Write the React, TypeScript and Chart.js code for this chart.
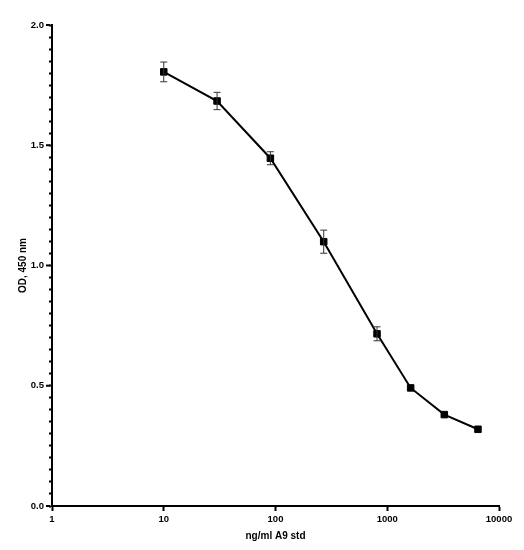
import React, { useEffect, useRef } from "react";
import { Chart, registerables } from "chart.js";

Chart.register(...registerables);

const concentrations = [10, 30, 90, 270, 810, 1620, 3240, 6480];
const odValues = [1.805, 1.684, 1.446, 1.099, 0.716, 0.491, 0.38, 0.319];
const odErrors = [0.041, 0.036, 0.027, 0.048, 0.029, 0.012, 0.008, 0.006];
const xTickValues = [1, 10, 100, 1000, 10000];
const yMajorStep = 0.5;
const yMinorStep = 0.05;

const FONT = "'Liberation Sans', Arial, Helvetica, sans-serif";

const isMajorY = (v: number) => Math.abs(v / yMajorStep - Math.round(v / yMajorStep)) < 1e-6;

const errorBarPlugin = {
  id: "errorBars",
  afterDatasetsDraw(chart: any) {
    const { ctx, scales } = chart;
    const xs = scales.x;
    const ys = scales.y;
    ctx.save();
    ctx.strokeStyle = "#333333";
    ctx.lineWidth = 1;
    concentrations.forEach((c, i) => {
      const px = xs.getPixelForValue(c);
      const top = ys.getPixelForValue(odValues[i] + odErrors[i]);
      const bot = ys.getPixelForValue(odValues[i] - odErrors[i]);
      if (bot - top < 8) return;
      ctx.beginPath();
      ctx.moveTo(px, top);
      ctx.lineTo(px, bot);
      ctx.moveTo(px - 3.5, top);
      ctx.lineTo(px + 3.5, top);
      ctx.moveTo(px - 3.5, bot);
      ctx.lineTo(px + 3.5, bot);
      ctx.stroke();
    });
    ctx.restore();
  },
};

// extends the major y ticks beyond the minor tick length
const majorTickPlugin = {
  id: "majorTicks",
  afterDraw(chart: any) {
    const { ctx, scales } = chart;
    const ys = scales.y;
    const axisX = chart.chartArea.left;
    ctx.save();
    ctx.fillStyle = "#000";
    ys.ticks.forEach((t: any) => {
      if (!isMajorY(t.value)) return;
      const py = ys.getPixelForValue(t.value);
      ctx.fillRect(axisX - 6, py - 1, 4, 2);
    });
    ctx.restore();
  },
};

export default function App() {
  const ref = useRef<HTMLCanvasElement | null>(null);
  useEffect(() => {
    if (!ref.current) return;
    const chart = new Chart(ref.current, {
      type: "line",
      data: {
        datasets: [
          {
            data: concentrations.map((c, i) => ({ x: c, y: odValues[i] })),
            borderColor: "#000",
            backgroundColor: "#000",
            borderWidth: 2,
            pointStyle: "rect",
            pointRadius: 4.6,
            pointBorderWidth: 1,
            pointBackgroundColor: "#000",
            pointBorderColor: "#000",
            tension: 0,
            clip: false as any,
          },
        ],
      },
      options: {
        animation: false,
        responsive: false,
        devicePixelRatio: 1,
        layout: { padding: { top: 25, right: 25, left: 0, bottom: 0 } },
        plugins: { legend: { display: false }, tooltip: { enabled: false } },
        scales: {
          x: {
            type: "logarithmic",
            min: 1,
            max: 10000,
            afterBuildTicks: (scale: any) => {
              scale.ticks = xTickValues.map((v) => ({ value: v, major: true }));
            },
            afterFit: (scale: any) => {
              scale.height = 44;
            },
            border: { display: true, color: "#000", width: 2 },
            grid: {
              display: true,
              drawOnChartArea: false,
              drawTicks: true,
              tickLength: 5,
              tickColor: "#000",
              tickWidth: 2,
            },
            ticks: {
              autoSkip: false,
              maxRotation: 0,
              padding: 3,
              color: "#000",
              font: { family: FONT, size: 9.5, weight: "bold" },
              callback: (v: any) => String(v),
            },
            title: {
              display: true,
              text: "ng/ml A9 std",
              color: "#000",
              font: { family: FONT, size: 10, weight: "bold" },
              padding: { top: 0, bottom: 8 },
            },
          },
          y: {
            min: 0,
            max: 2,
            afterBuildTicks: (scale: any) => {
              const n = Math.round((2 - 0) / yMinorStep);
              const t: any[] = [];
              for (let k = 0; k <= n; k++) t.push({ value: Math.round(k * yMinorStep * 1000) / 1000 });
              scale.ticks = t;
            },
            afterFit: (scale: any) => {
              scale.width = 52;
            },
            border: { display: true, color: "#000", width: 2 },
            grid: {
              display: true,
              drawOnChartArea: false,
              drawTicks: true,
              tickLength: 3,
              tickColor: "#000",
              tickWidth: 2,
            },
            ticks: {
              autoSkip: false,
              padding: 5,
              color: "#000",
              font: { family: FONT, size: 9.5, weight: "bold" },
              callback: (v: any) => (isMajorY(Number(v)) ? Number(v).toFixed(1) : ""),
            },
            title: {
              display: true,
              text: "OD, 450 nm",
              color: "#000",
              font: { family: FONT, size: 10, weight: "bold" },
              padding: { top: 17, bottom: 0 },
            },
          },
        },
      },
      plugins: [errorBarPlugin, majorTickPlugin],
    });
    return () => chart.destroy();
  }, []);
  return (
    <div style={{ position: "fixed", left: 0, top: 0, width: 524, height: 550, background: "#fff" }}>
      <canvas ref={ref} width={524} height={550} />
    </div>
  );
}
